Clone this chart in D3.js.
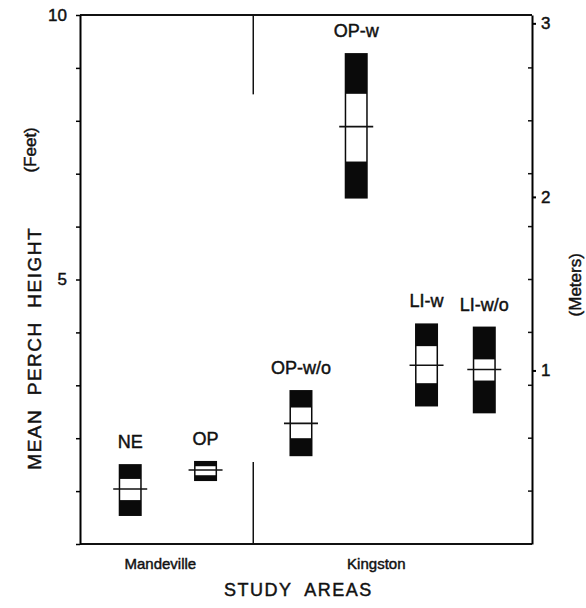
<!DOCTYPE html>
<html>
<head>
<meta charset="utf-8">
<script src="https://cdn.jsdelivr.net/npm/d3@7"></script>
<style>
  body { margin: 0; background: #fff; }
  text { font-family: "Liberation Sans", Arial, sans-serif; fill: #111; }
  .heavy { stroke: #111; stroke-width: 0.45; }
</style>
</head>
<body>
<div id="chart"></div>
<script>
// groups of lizards and their perch heights (feet)
const categories = ["NE", "OP", "OP-w/o", "OP-w", "LI-w", "LI-w/o"];
const slots = [2, 5, 8.8, 11, 13.8, 16.1];
const means = [1.04, 1.40, 2.28, 7.89, 3.38, 3.30];
const innerLow = [0.83, 1.30, 2.0, 7.23, 3.04, 3.09];
const innerHigh = [1.23, 1.47, 2.58, 8.51, 3.74, 3.49];
const outerLow = [0.53, 1.19, 1.66, 6.53, 2.60, 2.47];
const outerHigh = [1.51, 1.57, 2.91, 9.28, 4.17, 4.11];

const areas = ["Mandeville", "Kingston"];
const areaSlots = [3.2, 11.8];
const dividerSlot = 6.9;

const feetTicks = d3.range(0, 11);
const feetLabels = [5, 10];
const meterTicks = [1, 2, 3];

const width = 586;
const height = 608;
const margin = { top: 15, right: 54, bottom: 64, left: 80 };

const svg = d3.select("#chart")
    .append("svg")
    .attr("width", width)
    .attr("height", height);

const x = d3.scaleLinear()
    .domain([0, 18])
    .range([margin.left, width - margin.right]);

const y = d3.scaleLinear()
    .domain([0, 10])
    .range([height - margin.bottom, margin.top]);

const yM = d3.scaleLinear()
    .domain([0, 10 / 3.2808])
    .range([height - margin.bottom, margin.top]);

const data = categories.map((c, i) => ({
    name: c, slot: slots[i], mean: means[i],
    iLo: innerLow[i], iHi: innerHigh[i], oLo: outerLow[i], oHi: outerHigh[i]
}));

// frame top + bottom
svg.append("line")
    .attr("x1", margin.left).attr("x2", width - margin.right)
    .attr("y1", y(10)).attr("y2", y(10))
    .attr("stroke", "#111").attr("stroke-width", 2);
svg.append("line")
    .attr("x1", margin.left).attr("x2", width - margin.right)
    .attr("y1", y(0)).attr("y2", y(0))
    .attr("stroke", "#111").attr("stroke-width", 2);

// left axis, feet
const left = svg.append("g")
    .attr("transform", `translate(${margin.left},0)`)
    .call(d3.axisLeft(y).tickValues(feetTicks).tickSize(4).tickSizeOuter(0)
        .tickFormat((d) => feetLabels.includes(d) ? d : ""));
left.select(".domain").attr("stroke-width", 2);
left.selectAll(".tick line").attr("stroke-width", 1.5);
left.selectAll(".tick text").attr("font-size", 17).attr("dx", -6).attr("class", "heavy");

// right axis, meters + foot ticks inside
const right = svg.append("g")
    .attr("transform", `translate(${width - margin.right},0)`)
    .call(d3.axisRight(yM).tickValues(meterTicks).tickSize(4).tickSizeOuter(0)
        .tickFormat(d3.format("d")));
right.select(".domain").attr("stroke-width", 2);
right.selectAll(".tick line").attr("stroke-width", 2);
right.selectAll(".tick text").attr("font-size", 17).attr("dx", 2).attr("class", "heavy");

svg.append("g")
    .attr("transform", `translate(${width - margin.right},0)`)
    .selectAll("line")
    .data(feetTicks.slice(1, 10))
    .join("line")
    .attr("x1", -4).attr("x2", 0)
    .attr("y1", (d) => y(d)).attr("y2", (d) => y(d))
    .attr("stroke", "#111").attr("stroke-width", 1.5);

// divider between study areas
svg.append("line")
    .attr("x1", x(dividerSlot)).attr("x2", x(dividerSlot))
    .attr("y1", y(0)).attr("y2", y(1.55))
    .attr("stroke", "#111").attr("stroke-width", 1.5);
svg.append("line")
    .attr("x1", x(dividerSlot)).attr("x2", x(dividerSlot))
    .attr("y1", y(10)).attr("y2", y(8.5))
    .attr("stroke", "#111").attr("stroke-width", 1.5);

// boxes
const boxW = 23;
const g = svg.append("g");

g.selectAll("rect.outer")
    .data(data)
    .join("rect")
    .attr("class", "outer")
    .attr("x", (d) => x(d.slot) - boxW / 2)
    .attr("y", (d) => y(d.oHi))
    .attr("width", boxW)
    .attr("height", (d) => y(d.oLo) - y(d.oHi))
    .attr("fill", "#0a0a0a");

g.selectAll("rect.inner")
    .data(data)
    .join("rect")
    .attr("class", "inner")
    .attr("x", (d) => x(d.slot) - boxW / 2 + 1.5)
    .attr("y", (d) => y(d.iHi))
    .attr("width", boxW - 3)
    .attr("height", (d) => y(d.iLo) - y(d.iHi))
    .attr("fill", "#fff");

g.selectAll("line.mean")
    .data(data)
    .join("line")
    .attr("class", "mean")
    .attr("x1", (d) => x(d.slot) - 17)
    .attr("x2", (d) => x(d.slot) + 17)
    .attr("y1", (d) => y(d.mean))
    .attr("y2", (d) => y(d.mean))
    .attr("stroke", "#111").attr("stroke-width", 1.6);

g.selectAll("text.cat")
    .data(data)
    .join("text")
    .attr("class", "cat heavy")
    .attr("x", (d) => x(d.slot))
    .attr("y", (d) => y(d.oHi) - 16)
    .attr("text-anchor", "middle")
    .attr("font-size", 18)
    .text((d) => d.name);

// area names
svg.selectAll("text.area")
    .data(areas)
    .join("text")
    .attr("class", "area heavy")
    .attr("x", (d, i) => x(areaSlots[i]))
    .attr("y", 569)
    .attr("text-anchor", "middle")
    .attr("font-size", 15)
    .text((d) => d);

svg.append("text")
    .attr("class", "heavy")
    .attr("x", x(dividerSlot + 1.8))
    .attr("y", 596)
    .attr("text-anchor", "middle")
    .attr("font-size", 18)
    .attr("letter-spacing", 1.5)
    .style("white-space", "pre")
    .text("STUDY  AREAS");

svg.append("text")
    .attr("class", "heavy")
    .attr("transform", `translate(41,${y(3.7)}) rotate(-90)`)
    .attr("text-anchor", "middle")
    .attr("font-size", 19)
    .attr("letter-spacing", 1.5)
    .style("white-space", "pre")
    .text("MEAN  PERCH  HEIGHT");

svg.append("text")
    .attr("class", "heavy")
    .attr("transform", `translate(36,${y(7.45)}) rotate(-90)`)
    .attr("text-anchor", "middle")
    .attr("font-size", 17)
    .text("(Feet)");

svg.append("text")
    .attr("class", "heavy")
    .attr("transform", `translate(581,${y(4.9)}) rotate(-90)`)
    .attr("text-anchor", "middle")
    .attr("font-size", 17)
    .text("(Meters)");
</script>
</body>
</html>
